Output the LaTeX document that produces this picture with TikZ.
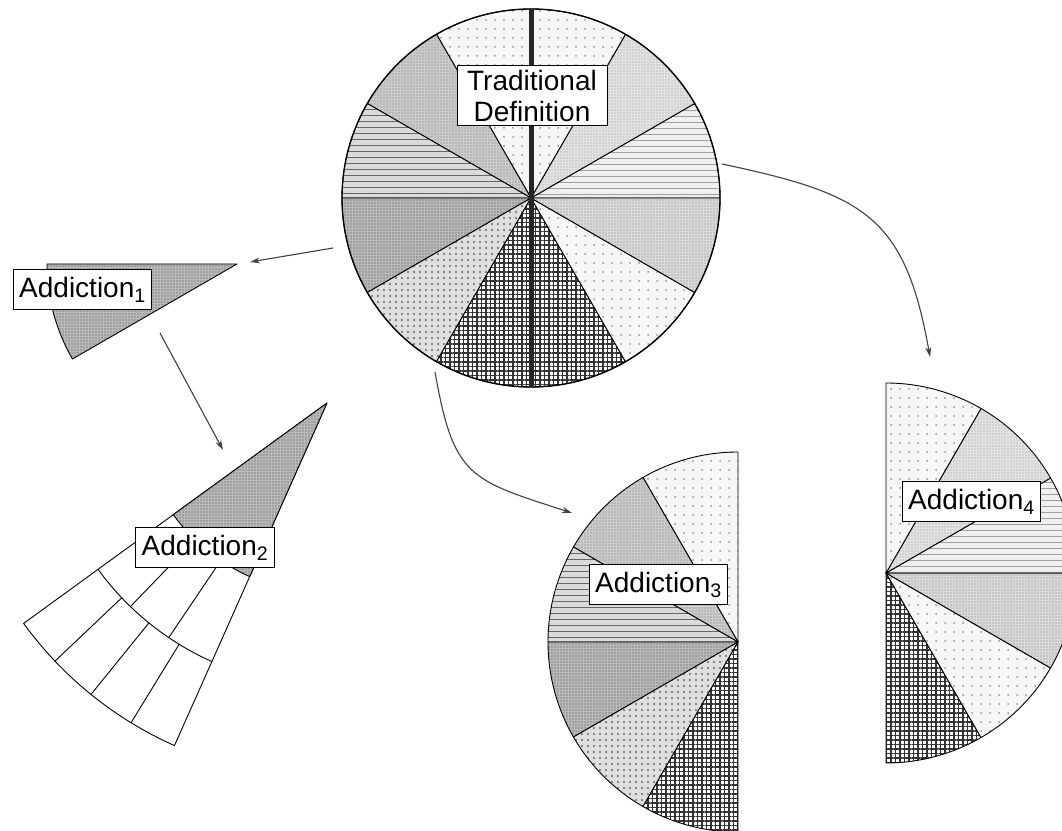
\documentclass[tikz,border=0pt]{standalone}
\usepackage{fontspec}
\setmainfont{Liberation Sans}
\usepackage{tikz}
\usetikzlibrary{
  arrows.meta,
  patterns.meta
}
\newcommand{\pieslice}[5]{\draw[#5] (#1) -- ++(#2:#4pt) arc[start angle=#2, end angle=#3, radius=#4pt] -- cycle;}

\begin{document}
\begin{tikzpicture}[
  x=1pt, y=1pt,
  wedge/.style={draw=black, line width=0.9pt, line join=round},
  hlinesLt/.style={wedge, preaction={fill=gray!12}, pattern={Lines[angle=0,distance=6pt,line width=0.8pt]}, pattern color=gray!75},
  hlinesMd/.style={wedge, preaction={fill=gray!28}, pattern={Lines[angle=0,distance=6pt,line width=1pt]}, pattern color=gray!80!black},
  dotsFine/.style={wedge, preaction={fill=gray!22}, pattern={Dots[distance=3pt,radius=0.6pt]}, pattern color=gray!80},
  dotsMed/.style={wedge, preaction={fill=gray!30}, pattern={Dots[distance=3pt,radius=0.6pt]}, pattern color=gray},
  dotsDense/.style={wedge, preaction={fill=gray!40}, pattern={Dots[distance=3pt,radius=0.7pt]}, pattern color=gray!90!black},
  darkfill/.style={wedge, preaction={fill=gray!55}, pattern={Dots[distance=3pt,radius=0.7pt]}, pattern color=black!70},
  dotsCoarse/.style={wedge, preaction={fill=gray!25}, pattern={Dots[distance=6pt,radius=1.1pt]}, pattern color=black!60},
  dotsSparse/.style={wedge, preaction={fill=gray!6}, pattern={Dots[distance=9pt,radius=1pt]}, pattern color=gray!85},
  gridfill/.style={wedge, preaction={fill=white}, pattern={Hatch[angle=0,distance=4.5pt,line width=1.1pt]}, pattern color=black!80},
  lbl/.style={draw, fill=white, line width=1pt, font=\fontsize{28}{31}\selectfont, inner xsep=6pt, minimum height=40pt},
  arr/.style={-{Stealth[length=10pt,width=6pt]}, line width=1.1pt, draw=black!75},
]
  \useasboundingbox (0,0) rectangle (1062,830);
  \clip (0,0) rectangle (1062,830);

  % centres of the pies
  \coordinate (trad) at (531,632);
  \coordinate (a1) at (237,566);
  \coordinate (a2) at (327,427);
  \coordinate (a3) at (738,188);
  \coordinate (a4) at (886,257);

  % Traditional definition
  \pieslice{trad}{0}{30}{189}{hlinesLt}
  \pieslice{trad}{30}{60}{189}{dotsFine}
  \pieslice{trad}{60}{120}{189}{dotsSparse}
  \pieslice{trad}{120}{150}{189}{dotsDense}
  \pieslice{trad}{150}{180}{189}{hlinesMd}
  \pieslice{trad}{180}{210}{189}{darkfill}
  \pieslice{trad}{210}{240}{189}{dotsCoarse}
  \pieslice{trad}{240}{300}{189}{gridfill}
  \pieslice{trad}{300}{330}{189}{dotsSparse}
  \pieslice{trad}{330}{360}{189}{dotsMed}
  \draw[line width=1.3pt] (trad) circle[radius=189pt];
  \draw[line width=5pt, black!85] ([yshift=189pt]trad) -- ([yshift=-189pt]trad);

  % Addiction 1
  \pieslice{a1}{180}{210}{190}{darkfill}

  % Addiction 2
  \draw[wedge, fill=white] (a2) -- ++(216:375pt) arc[start angle=216, end angle=246, radius=375pt] -- cycle;
  \pieslice{a2}{216}{246}{190}{darkfill}
  \draw[wedge] ([shift={(216:283pt)}]a2) arc[start angle=216, end angle=246, radius=283pt];
  \draw[wedge] ([shift={(226:190pt)}]a2) -- ([shift={(226:283pt)}]a2);
  \draw[wedge] ([shift={(236:190pt)}]a2) -- ([shift={(236:283pt)}]a2);
  \draw[wedge] ([shift={(223.5:283pt)}]a2) -- ([shift={(223.5:375pt)}]a2);
  \draw[wedge] ([shift={(231:283pt)}]a2) -- ([shift={(231:375pt)}]a2);
  \draw[wedge] ([shift={(238.5:283pt)}]a2) -- ([shift={(238.5:375pt)}]a2);

  % Addiction 3
  \pieslice{a3}{90}{120}{190}{dotsSparse}
  \pieslice{a3}{120}{150}{190}{dotsDense}
  \pieslice{a3}{150}{180}{190}{hlinesMd}
  \pieslice{a3}{180}{210}{190}{darkfill}
  \pieslice{a3}{210}{240}{190}{dotsCoarse}
  \pieslice{a3}{240}{270}{190}{gridfill}

  % Addiction 4
  \pieslice{a4}{-90}{-60}{190}{gridfill}
  \pieslice{a4}{-60}{-30}{190}{dotsSparse}
  \pieslice{a4}{-30}{0}{190}{dotsMed}
  \pieslice{a4}{0}{30}{190}{hlinesLt}
  \pieslice{a4}{30}{60}{190}{dotsFine}
  \pieslice{a4}{60}{90}{190}{dotsSparse}

  % Arrows
  \coordinate (from1) at (333,582);
  \coordinate (to1) at (250,568);
  \coordinate (from2) at (160,497);
  \coordinate (to2) at (223,380);
  \coordinate (from3) at (435,458);
  \coordinate (to3) at (572,317);
  \coordinate (from4) at (722,666);
  \coordinate (to4) at (930,473);
  \draw[arr] (from1) -- (to1);
  \draw[arr] (from2) -- (to2);
  \draw[arr] (from3) to[out=-80, in=162, looseness=1.4] (to3);
  \draw[arr] (from4) to[out=-12, in=100, looseness=1.3] (to4);

  % Labels
  \node[lbl, align=center, inner ysep=4pt, minimum width=150pt] (tradlbl) at (532,734.5) {Traditional\\Definition};
  \node[lbl] (add1lbl) at (82.5,540) {Addiction\textsubscript{1}};
  \node[lbl] (add2lbl) at (205,282.5) {Addiction\textsubscript{2}};
  \node[lbl] (add3lbl) at (658.5,245) {Addiction\textsubscript{3}};
  \node[lbl] (add4lbl) at (971.5,328.5) {Addiction\textsubscript{4}};
\end{tikzpicture}
\end{document}
